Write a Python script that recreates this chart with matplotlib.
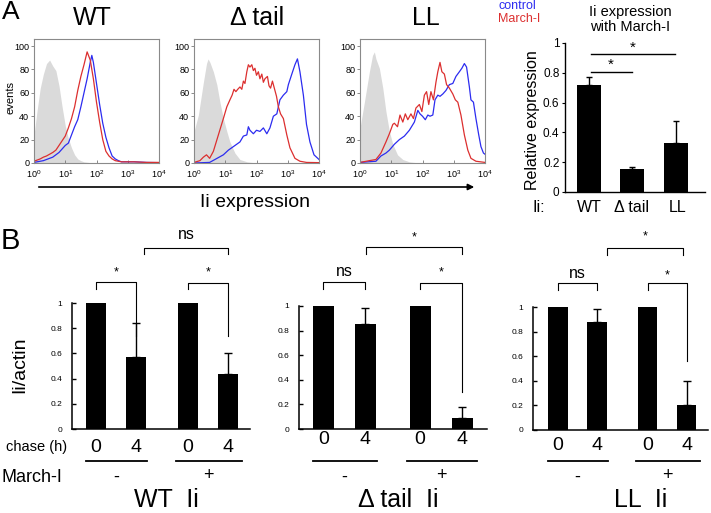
import numpy as np
import matplotlib
matplotlib.use("Agg")
import matplotlib.pyplot as plt
from matplotlib.patches import FancyArrowPatch
from matplotlib.transforms import blended_transform_factory

plt.rcParams['font.family'] = ['Liberation Sans', 'DejaVu Sans']
plt.rcParams['mathtext.fontset'] = 'custom'
plt.rcParams['mathtext.rm'] = 'Liberation Sans'
plt.rcParams['mathtext.it'] = 'Liberation Sans:italic'

# ---------------- data: panel A histograms (log10 of Ii expression, % of max events)
wt_gray_x = [0.0, 0.1, 0.2, 0.3, 0.4, 0.5, 0.6, 0.7, 0.8, 0.9, 1.0, 1.1, 1.2, 1.3, 1.4, 1.5, 1.6, 1.8, 2.0, 4.0]
wt_gray_y = [24, 45, 64, 76, 85, 88, 83, 79, 66, 48, 32, 21, 13, 7, 3.5, 2, 1, 0.3, 0, 0]
wt_red_x = [0.0, 0.1, 0.2, 0.3, 0.4, 0.5, 0.6, 0.7, 0.8, 0.9, 1.0, 1.1, 1.2, 1.3, 1.4, 1.5, 1.6, 1.7, 1.8, 1.9,
            2.0, 2.1, 2.2, 2.3, 2.4, 2.5, 2.6, 2.7, 2.8, 3.2, 3.6, 4.0]
wt_red_y = [1.5, 2.5, 3.5, 5, 6, 7.5, 9, 11, 15, 19, 23, 30, 38, 48, 62, 74, 84, 95, 88, 72,
            52, 35, 20, 10, 6, 3.5, 2, 1.5, 1, 1, 0.5, 0.5]
wt_blue_x = [0.0, 0.1, 0.2, 0.3, 0.4, 0.5, 0.6, 0.7, 0.8, 0.9, 1.0, 1.1, 1.2, 1.3, 1.4, 1.5, 1.6, 1.7, 1.8, 1.85,
             1.9, 2.0, 2.1, 2.2, 2.3, 2.4, 2.5, 2.6, 2.7, 2.8, 3.2, 3.6, 4.0]
wt_blue_y = [0.5, 1, 1.5, 2, 3, 4, 5, 7, 9, 12, 15, 17, 24, 31, 37, 48, 60, 72, 86, 92,
             86, 68, 50, 34, 22, 13, 6, 3.5, 2, 1, 1, 0.5, 0.3]

dt_gray_x = [0.0, 0.14, 0.3, 0.4, 0.45, 0.51, 0.62, 0.73, 0.83, 0.94, 1.05, 1.15, 1.31, 1.47, 1.7, 2.0, 4.0]
dt_gray_y = [27, 41, 69, 85, 89, 86, 78, 67, 52, 38, 27, 18, 8.5, 3, 1, 0, 0]
dt_red_x = [0.0, 0.19, 0.3, 0.4, 0.5, 0.62, 0.78, 0.94, 1.05, 1.15, 1.22, 1.28, 1.34, 1.4, 1.47, 1.53, 1.58, 1.63,
            1.69, 1.74, 1.79, 1.85, 1.9, 1.95, 2.0, 2.06, 2.11, 2.17, 2.22, 2.27, 2.35, 2.4, 2.45, 2.51, 2.59,
            2.64, 2.7, 2.77, 2.86, 2.97, 3.07, 3.23, 3.39, 3.6, 4.0]
dt_red_y = [0.5, 2, 5, 7, 4, 10, 24, 38, 48, 54, 58, 63, 61, 63, 65, 63, 70, 68,
            78, 84, 82, 84, 79, 81, 75, 78, 72, 76, 69, 72, 74, 66, 64, 70, 62,
            57, 48, 42, 38, 24, 13, 4, 1.5, 0.5, 0.3]
dt_blue_x = [0.0, 0.5, 0.67, 0.94, 1.1, 1.26, 1.47, 1.58, 1.69, 1.74, 1.79, 1.9, 2.0, 2.11, 2.22, 2.33, 2.43,
             2.54, 2.65, 2.75, 2.86, 2.97, 3.02, 3.13, 3.23, 3.31, 3.39, 3.5, 3.6, 3.71, 3.84, 4.0]
dt_blue_y = [0, 0.5, 3, 7, 11, 14, 18, 23, 24, 31, 28, 25, 28, 27, 30, 25, 30,
             40, 42, 54, 58, 61, 67, 76, 84, 89, 78, 58, 33, 18, 7, 3]

ll_gray_x = [0.0, 0.14, 0.3, 0.4, 0.46, 0.51, 0.62, 0.73, 0.83, 0.94, 1.05, 1.2, 1.37, 1.58, 1.8, 2.0, 4.0]
ll_gray_y = [30, 52, 78, 92, 95, 89, 81, 64, 44, 27, 16, 7, 3, 1, 0.3, 0, 0]
ll_red_x = [0.0, 0.3, 0.51, 0.67, 0.83, 0.94, 1.05, 1.1, 1.2, 1.28, 1.37, 1.45, 1.53, 1.63, 1.71, 1.79, 1.9,
            1.98, 2.06, 2.13, 2.2, 2.27, 2.35, 2.43, 2.49, 2.56, 2.62, 2.7, 2.77, 2.86, 2.97, 3.05, 3.13,
            3.23, 3.34, 3.45, 3.55, 3.71, 4.0]
ll_red_y = [0.5, 2, 3, 8.5, 18, 25, 33, 34, 31, 41, 35, 42, 37, 42, 38, 47, 50,
            44, 58, 61, 50, 61, 54, 69, 78, 86, 78, 76, 67, 64, 59, 54, 52,
            41, 24, 11, 4, 1.5, 0.5]
ll_blue_x = [0.0, 0.51, 0.67, 0.83, 0.94, 1.1, 1.26, 1.42, 1.58, 1.74, 1.85, 1.92, 2.0, 2.09, 2.17, 2.24, 2.33,
             2.4, 2.49, 2.56, 2.65, 2.75, 2.86, 2.97, 3.07, 3.18, 3.26, 3.34, 3.41, 3.5, 3.55, 3.63, 3.71,
             3.8, 3.87, 3.95, 4.0]
ll_blue_y = [0.5, 1.5, 6, 8.5, 11, 16, 20, 23, 28, 35, 45, 42, 40, 37, 41, 40, 41,
             54, 58, 57, 59, 62, 67, 68, 74, 78, 81, 85, 82, 65, 54, 52, 38,
             24, 14, 8.5, 7.5]

hist_titles = ['WT', 'Δ tail', 'LL']
hist_ticks = [1, 10, 100, 1000, 10000]
hist_ticklabels = ['$10^{0}$', '$10^{1}$', '$10^{2}$', '$10^{3}$', '$10^{4}$']
events_ticks = [0, 20, 40, 60, 80, 100]

# ---------------- data: panel A bar chart
a_labels = ['WT', 'Δ tail', 'LL']
a_values = [0.716, 0.152, 0.331]
a_err = [0.056, 0.016, 0.143]

# ---------------- data: panel B
b_titles = ['WT  Ii', 'Δ tail  Ii', 'LL  Ii']
chase_labels = ['0', '4', '0', '4']
march_labels = ['-', '+']
wt_vals = [1.0, 0.57, 1.0, 0.44]
wt_err = [0, 0.27, 0, 0.16]
dt_vals = [1.0, 0.85, 1.0, 0.09]
dt_err = [0, 0.13, 0, 0.09]
ll_vals = [1.0, 0.88, 1.0, 0.20]
ll_err = [0, 0.10, 0, 0.20]
b_ticks = [0, 0.2, 0.4, 0.6, 0.8, 1.0]
b_ticklabels = ['0', '0.2', '0.4', '0.6', '0.8', '1']

# ---------------- figure helpers
W, H = 711, 513
fig = plt.figure(figsize=(W / 100, H / 100), dpi=100)


def px_axes(x0, ytop, x1, ybot):
    return fig.add_axes([x0 / W, 1 - ybot / H, (x1 - x0) / W, (ybot - ytop) / H])


def ftext(x, y, s, **kw):
    kw.setdefault('ha', 'center')
    kw.setdefault('va', 'center')
    return fig.text(x / W, 1 - y / H, s, **kw)


RED = '#dc2f2f'
BLUE = '#2c2cf0'
GRAY = '#dadada'

# ---------------- panel A histograms
hist_boxes = [(34, 39, 159, 163), (194, 39, 319, 163), (360, 39, 485, 163)]
hist_series = [
    (wt_gray_x, wt_gray_y, wt_red_x, wt_red_y, wt_blue_x, wt_blue_y),
    (dt_gray_x, dt_gray_y, dt_red_x, dt_red_y, dt_blue_x, dt_blue_y),
    (ll_gray_x, ll_gray_y, ll_red_x, ll_red_y, ll_blue_x, ll_blue_y),
]
title_x = [92, 257, 426]
for box, ser, tx, title in zip(hist_boxes, hist_series, title_x, hist_titles):
    ax = px_axes(*box)
    gx, gy, rx, ry, bx, by = ser
    ax.fill_between(10 ** np.array(gx), 0, gy, color=GRAY, lw=0)
    ax.plot(10 ** np.array(bx), by, color=BLUE, lw=0.9)
    ax.plot(10 ** np.array(rx), ry, color=RED, lw=0.9)
    ax.set_xscale('log')
    ax.set_xlim(1, 1e4)
    ax.set_ylim(0, 106)
    ax.set_xticks(hist_ticks)
    ax.set_xticklabels(hist_ticklabels)
    ax.set_yticks(events_ticks)
    ax.tick_params(axis='x', which='major', direction='in', length=2.5, width=0.6,
                   labelsize=6.5, pad=3.5, color='#777777')
    ax.tick_params(axis='x', which='minor', direction='in', length=1.5, width=0.5, color='#999999')
    ax.tick_params(axis='y', direction='out', length=2, width=0.6, labelsize=6.5, pad=1.5, color='#777777')
    for sp in ax.spines.values():
        sp.set_color('#8a8a8a')
        sp.set_linewidth(0.8)
    ftext(tx, 18, title, fontsize=18)

ftext(11, 97, 'events', rotation=90, fontsize=8)
ftext(11, 12, 'A', fontsize=19)
ftext(517, 6, 'control', color=BLUE, fontsize=9)
ftext(519, 19, 'March-I', color=RED, fontsize=9)

arrow = FancyArrowPatch((36 / W, 1 - 187 / H), (477 / W, 1 - 187 / H), transform=fig.transFigure,
                        arrowstyle='-|>', mutation_scale=9, lw=1.2, color='black')
fig.add_artist(arrow)
ftext(255, 203, 'Ii expression', fontsize=14)

# ---------------- panel A bar chart
axa = px_axes(565, 43, 705, 192)
xa = np.arange(len(a_values))
axa.bar(xa, a_values, width=0.55, color='black')
axa.errorbar(xa, a_values, yerr=[np.zeros(len(a_err)), a_err], fmt='none', ecolor='black',
             elinewidth=1, capsize=2.5, capthick=1)
axa.set_xlim(-0.55, 2.67)
axa.set_ylim(0, 1)
axa.set_yticks(b_ticks)
axa.set_yticklabels(b_ticklabels)
axa.set_xticks([])
axa.tick_params(axis='y', direction='out', length=2.5, width=0.8, labelsize=8.5, pad=1.5)
axa.spines['top'].set_visible(False)
axa.spines['right'].set_visible(False)
for sp in ('left', 'bottom'):
    axa.spines[sp].set_linewidth(1.0)
# significance lines
axa.plot([0.05, 1.0], [0.805, 0.805], color='black', lw=1, clip_on=False)
axa.text(0.5, 0.856, '*', ha='center', va='center', fontsize=11)
axa.plot([0.05, 1.98], [0.924, 0.924], color='black', lw=1, clip_on=False)
axa.text(1.0, 0.966, '*', ha='center', va='center', fontsize=11)
ftext(630, 12, 'Ii expression', fontsize=10.5)
ftext(630, 27, 'with March-I', fontsize=10.5)
ftext(533, 120, 'Relative expression', rotation=90, fontsize=11.5)
ftext(539, 208, 'Ii:', fontsize=11.5)
a_label_x = [589, 632, 678]
for lx, lab in zip(a_label_x, a_labels):
    ftext(lx, 208, lab, fontsize=11.5)

# ---------------- panel B
ftext(10, 241, 'B', fontsize=21)
ftext(20, 365, 'Ii/actin', rotation=90, fontsize=14)
ftext(37, 447, 'chase (h)', fontsize=10.5)
ftext(32, 477, 'March-I', fontsize=13)

positions = np.array([0, 1, 2.3, 3.3])
b_boxes = [(72, 303, 250, 429), (299, 306, 487, 429), (533, 307, 708, 430)]
b_xlims = [(-0.6, 3.85), (-0.583, 3.893), (-0.641, 3.846)]
b_vals = [wt_vals, dt_vals, ll_vals]
b_errs = [wt_err, dt_err, ll_err]
b_digit_y = [447, 439, 446]
b_title_x = [166, 398, 641]
# bracket layout: (label, top, left drop, right drop, label y)
b_pair1 = [('*', 1.167, 1.11, 0.74, 1.24), ('ns', 1.195, 1.14, 1.14, 1.28), ('ns', 1.195, 1.14, 1.14, 1.27)]
b_pair2 = [('*', 1.16, 1.11, 0.74, 1.24), ('*', 1.19, 1.14, 0.30, 1.27), ('*', 1.195, 1.14, 0.56, 1.26)]
b_group = [('ns', 1.2, 3.3, 1.44, 1.39, 1.54), ('*', 1.01, 3.3, 1.48, 1.42, 1.56),
           ('*', 1.26, 3.2, 1.48, 1.42, 1.57)]

for i in range(3):
    ax = px_axes(*b_boxes[i])
    vals = np.array(b_vals[i])
    errs = np.array(b_errs[i])
    ax.bar(positions, vals, width=0.5, color='black')
    m = errs > 0
    ax.errorbar(positions[m], vals[m], yerr=[np.zeros(m.sum()), errs[m]], fmt='none', ecolor='black',
                elinewidth=1, capsize=3, capthick=1)
    ax.set_xlim(*b_xlims[i])
    ax.set_ylim(0, 1)
    ax.set_yticks(b_ticks)
    ax.set_yticklabels(b_ticklabels)
    ax.set_xticks([])
    ax.tick_params(axis='y', direction='in', length=3, width=1, labelsize=6, pad=7)
    ax.spines['top'].set_visible(False)
    ax.spines['right'].set_visible(False)
    for sp in ('left', 'bottom'):
        ax.spines[sp].set_linewidth(1.1)

    def bracket(xl, xr, top, dl, dr, label, ly, fs):
        ax.plot([xl, xl, xr, xr], [dl, top, top, dr], color='black', lw=0.8, clip_on=False)
        ax.text((xl + xr) / 2, ly, label, ha='center', va='center', fontsize=fs, clip_on=False)

    lab, top, dl, dr, ly = b_pair1[i]
    bracket(positions[0], positions[1], top, dl, dr, lab, ly, 11.5 if lab == 'ns' else 9)
    lab, top, dl, dr, ly = b_pair2[i]
    bracket(positions[2], positions[3], top, dl, dr, lab, ly, 11.5 if lab == 'ns' else 9)
    lab, xl, xr, top, dd, ly = b_group[i]
    bracket(xl, xr, top, dd, dd, lab, ly, 11.5 if lab == 'ns' else 9)

    tr = blended_transform_factory(ax.transData, fig.transFigure)
    for p, c in zip(positions, chase_labels):
        ax.text(p, 1 - b_digit_y[i] / H, c, transform=tr, ha='center', va='center', fontsize=14)
    ax.plot([-0.25, 1.27], [1 - 461 / H] * 2, transform=tr, color='black', lw=1.3, clip_on=False)
    ax.plot([2.0, 3.65], [1 - 461 / H] * 2, transform=tr, color='black', lw=1.3, clip_on=False)
    ax.text(0.5, 1 - 477 / H, march_labels[0], transform=tr, ha='center', va='center', fontsize=13)
    ax.text(2.8, 1 - 476 / H, march_labels[1], transform=tr, ha='center', va='center', fontsize=13)
    ftext(b_title_x[i], 500, b_titles[i], fontsize=18)

fig.savefig('out.png', dpi=100)
